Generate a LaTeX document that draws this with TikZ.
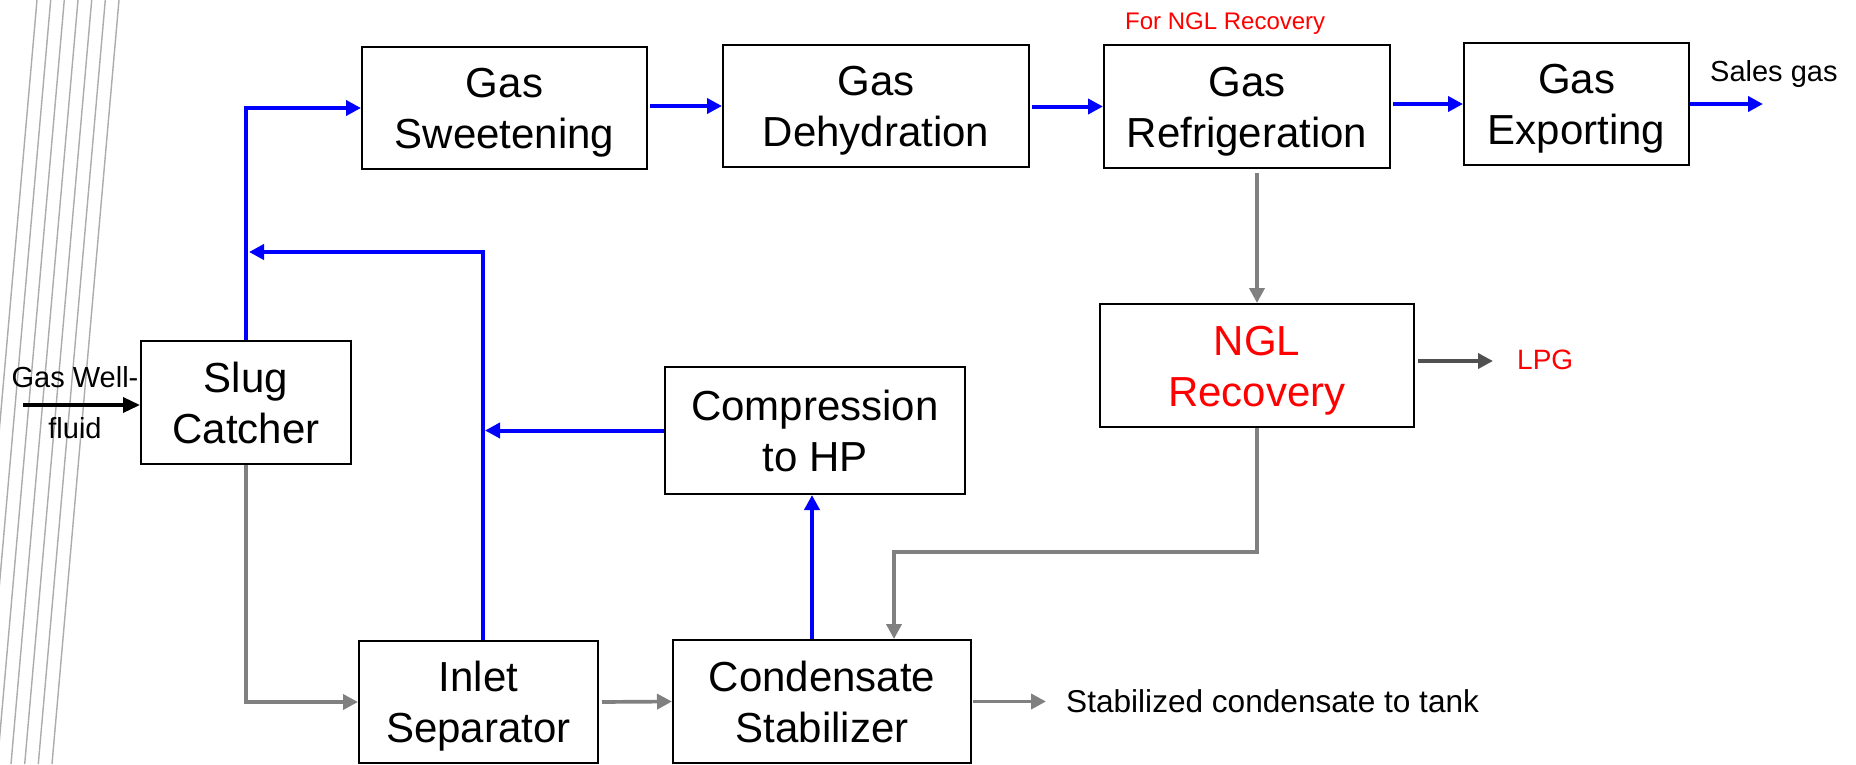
\documentclass[tikz,border=0pt]{standalone}
\usepackage{fontspec}
\setmainfont{Liberation Sans}
\usetikzlibrary{arrows.meta}
\definecolor{flowblue}{RGB}{0,0,255}
\definecolor{flowgray}{RGB}{128,128,128}
\definecolor{lpggray}{RGB}{80,80,80}
\definecolor{decogray}{RGB}{172,172,172}
\definecolor{txtred}{RGB}{255,0,0}
\newcommand{\boxtext}[2]{\raisebox{0pt}[32pt][0pt]{#1}\\\raisebox{0pt}[\height][2pt]{#2}}
\tikzset{
  procbox/.style={draw=black, line width=2pt, minimum width=#1, minimum height=122pt,
    inner sep=0pt, align=center, font=\fontsize{42}{51}\selectfont},
  lbl/.style={inner sep=0pt},
  flowline/.style={line width=4pt, -{Triangle[length=15pt,width=15pt]}},
  blueflow/.style={flowline, draw=flowblue},
  grayflow/.style={flowline, draw=flowgray, line width=3.7pt},
  lpgflow/.style={flowline, draw=lpggray, line width=3.7pt},
  wellflow/.style={line width=3.5pt, draw=black, -{Triangle[length=17pt,width=15pt]}},
  decoline/.style={draw=decogray, line width=1.4pt}
}
\begin{document}
\begin{tikzpicture}[x=1pt,y=-1pt]
\useasboundingbox (0,0) rectangle (1856,764);
\fill[white] (0,0) rectangle (1856,764);
% decorative slanted lines
\draw[decoline] (37,0) -- (-30,764);
\draw[decoline] (50.7,0) -- (-16.3,764);
\draw[decoline] (64.3,0) -- (-2.7,764);
\draw[decoline] (78,0) -- (11,764);
\draw[decoline] (91.7,0) -- (24.7,764);
\draw[decoline] (105.3,0) -- (38.3,764);
\draw[decoline] (119,0) -- (52,764);

% process boxes
\node[procbox=285pt] (sweet) at (504.5,108) {\boxtext{Gas}{Sweetening}};
\node[procbox=306pt] (dehyd) at (876,106) {\boxtext{Gas}{Dehydration}};
\node[procbox=286pt, minimum height=123pt] (refrig) at (1247,106.5) {\boxtext{Gas}{Refrigeration}};
\node[procbox=225pt] (export) at (1576.5,104) {\boxtext{Gas}{Exporting}};
\node[procbox=210pt, minimum height=123pt] (slug) at (246,402.5) {\boxtext{Slug}{Catcher}};
\node[procbox=300pt, minimum height=127pt] (comp) at (815,430.5) {\boxtext{Compression}{to HP}};
\node[procbox=314pt, minimum height=123pt, text=txtred] (ngl) at (1257,365.5) {\boxtext{NGL}{Recovery}};
\node[procbox=239pt] (inlet) at (478.5,702) {\boxtext{Inlet}{Separator}};
\node[procbox=298pt, minimum height=123pt] (cond) at (822,701.5) {\boxtext{Condensate}{Stabilizer}};

% labels
\node[lbl, align=center, font=\fontsize{29}{51}\selectfont] (well) at (75,402)
  {\raisebox{0pt}[21pt][0pt]{Gas Well-}\\\raisebox{0pt}[\height][0pt]{fluid}};
\node[lbl, anchor=base west, font=\fontsize{29}{35}\selectfont] (sales) at (1710,81) {Sales gas};
\node[lbl, anchor=base west, text=txtred, font=\fontsize{24}{29}\selectfont] (forngl) at (1125,29.5) {For NGL Recovery};
\node[lbl, anchor=base west, text=txtred, font=\fontsize{28}{34}\selectfont] (lpg) at (1517,369) {LPG};
\node[lbl, anchor=base west, font=\fontsize{31.6}{38}\selectfont] (stab) at (1066,712) {Stabilized condensate to tank};

% free ends
\coordinate (wellstart) at (23,405);
\coordinate (j1) at (249,252);
\coordinate (j2) at (485,432);
\coordinate (k) at (894,552);
\coordinate (salesend) at (1763,105);
\coordinate (lpgend) at (1493,361);
\coordinate (stabend) at (1046,703);

% blue gas connectors
\draw[blueflow] (slug.north) |- (sweet.west);
\draw[blueflow, shorten <=2pt] (dehyd.west -| sweet.east) -- (dehyd.west);
\draw[blueflow, shorten <=2pt] (refrig.west -| dehyd.east) -- (refrig.west);
\draw[blueflow, shorten <=2pt] (export.west -| refrig.east) -- (export.west);
\draw[blueflow] (export.east) -- (export.east -| salesend);
\draw[blueflow] ([xshift=4.5pt]inlet.north) |- (j1);
\draw[blueflow] (comp.west) -- (comp.west -| j2);
\draw[blueflow] ([xshift=-10pt]cond.north) -- ([xshift=-10pt]cond.north |- comp.south);

% gray liquid connectors
\draw[grayflow] ([yshift=-4pt]refrig.south -| ngl.north) -- (ngl.north);
\draw[grayflow] (ngl.south) |- (k) -- (k |- cond.north);
\draw[grayflow] (slug.south) |- (inlet.west);
\draw[grayflow, shorten <=3pt] (inlet.east) -- (cond.west);
\draw[grayflow, shorten <=1pt] (cond.east) -- (cond.east -| stabend);
\draw[lpgflow, shorten <=3pt] (ngl.east |- lpgend) -- (lpgend);

% inlet feed
\draw[wellflow] (wellstart) -- (wellstart -| slug.west);
\end{tikzpicture}
\end{document}
